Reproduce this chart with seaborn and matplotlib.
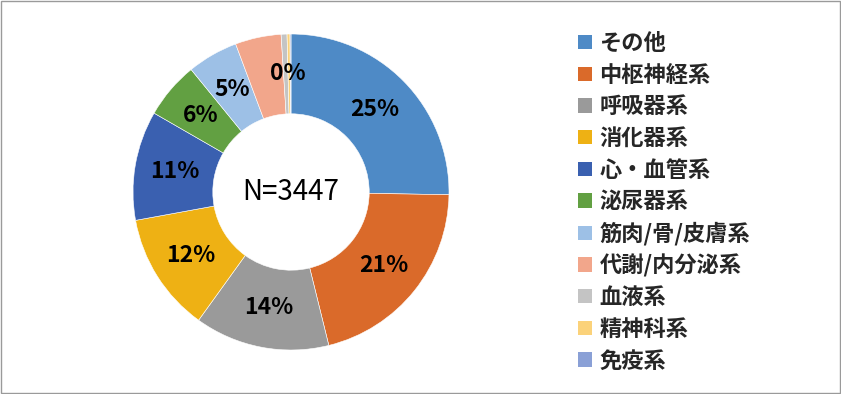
import matplotlib
matplotlib.use("Agg")
import matplotlib.pyplot as plt
import seaborn as sns
import numpy as np
from matplotlib.patches import Rectangle, Patch

categories = ["その他", "中枢神経系", "呼吸器系", "消化器系", "心・血管系", "泌尿器系",
              "筋肉/骨/皮膚系", "代謝/内分泌系", "血液系", "精神科系", "免疫系"]
values = [25.3, 20.9, 13.8, 12.2, 11.2, 5.8, 5.2, 4.7, 0.6, 0.3, 0.1]
labels_shown = ["25%", "21%", "14%", "12%", "11%", "6%", "5%", "", "", "0%", ""]
colors = ["#4e8ac6", "#da6a2a", "#9a9a9a", "#eeb114", "#3a60b0", "#62a042",
          "#9dc0e6", "#f2a68b", "#c4c4c4", "#fbd27a", "#8aa0d6"]
center_text = "N=3447"

sns.set_theme(style="white")
plt.rcParams['font.family'] = ['Noto Sans CJK JP', 'DejaVu Sans']

W, H = 841, 394
fig = plt.figure(figsize=(W / 100, H / 100), dpi=100)
fig.patch.set_facecolor("white")

cx, cy, R = 291, 192, 158
box = 162
ax = fig.add_axes([(cx - box) / W, (H - cy - box) / H, 2 * box / W, 2 * box / H])

wedges, _ = ax.pie(values, colors=colors, startangle=90, counterclock=False,
                   radius=1.0, wedgeprops=dict(width=0.505, edgecolor="white", linewidth=0.4))
lim = box / R
ax.set_xlim(-lim, lim)
ax.set_ylim(-lim, lim)
ax.set_aspect("equal")
ax.axis("off")

total = sum(values)
cum = 0.0
rmid = 1.0 - 0.505 / 2
for v, lab in zip(values, labels_shown):
    mid = cum + v / 2
    cum += v
    if not lab:
        continue
    if lab == "0%":
        ang = np.deg2rad(90 - 360 * (cum - v) / total)
    else:
        ang = np.deg2rad(90 - 360 * mid / total)
    ax.text(rmid * np.cos(ang), rmid * np.sin(ang), lab, ha="center", va="center",
            fontsize=16.5, fontweight="bold", color="black")

ax.text(0, 0, center_text, ha="center", va="center", fontsize=20, color="black")

handles = [Patch(facecolor=c, edgecolor="none") for c in colors]
leg = fig.legend(handles, categories, loc="upper left", bbox_to_anchor=(569 / W, 1 - 23 / H),
                 frameon=False, prop=dict(size=16, weight="bold"),
                 handlelength=0.62, handleheight=0.62, handletextpad=0.35, labelspacing=0.39,
                 borderaxespad=0)

fig.patches.append(Rectangle((1 / W, 1 / H), 1 - 2 / W, 1 - 2 / H, transform=fig.transFigure,
                             fill=False, edgecolor="#9a9a9a", linewidth=1.0))

fig.savefig("out.png", dpi=100, facecolor="white")
